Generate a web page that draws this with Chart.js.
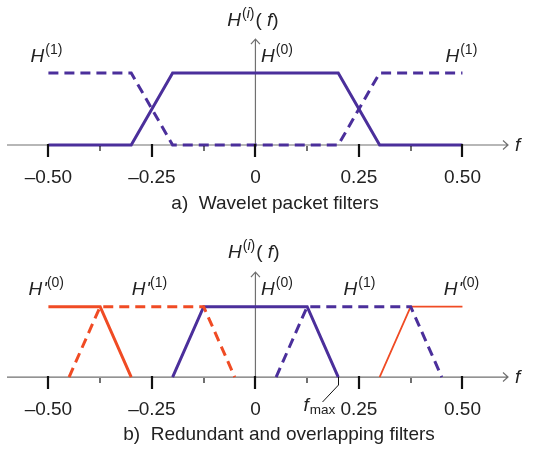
<!DOCTYPE html>
<html>
<head>
<meta charset="utf-8">
<script src="https://cdn.jsdelivr.net/npm/chart.js@4"></script>
<style>
  html, body { margin: 0; padding: 0; background: #fff; }
  #wrap { position: relative; width: 533px; height: 454px; }
  canvas { position: absolute; left: 0; }
</style>
</head>
<body>
<div id="wrap">
  <canvas id="chartA" width="533" height="227" style="top:0"></canvas>
  <canvas id="chartB" width="533" height="227" style="top:227px"></canvas>
</div>
<script>
// frequency axis ticks
const majorTicks = [-0.5, -0.25, 0, 0.25, 0.5];
const minorTicks = [-0.375, -0.125, 0.125, 0.375];
const tickLabels = ['\u20130.50', '\u20130.25', '0', '0.25', '0.50'];

// a) wavelet packet filters
const wpH0Freq = [-0.5, -0.3, -0.2, 0.2, 0.3, 0.5];
const wpH0Gain = [0, 0, 1, 1, 0, 0];
const wpH1Freq = [-0.5, -0.3, -0.2, 0.2, 0.3, 0.5];
const wpH1Gain = [1, 1, 0, 0, 1, 1];

// b) redundant and overlapping filters
const rH0Freq = [-0.2, -0.125, 0.125, 0.2];
const rH0Gain = [0, 1, 1, 0];
const rH1Freq = [0.05, 0.125, 0.375, 0.45];
const rH1Gain = [0, 1, 1, 0];
const rHp0LeftFreq = [-0.5, -0.375, -0.3];
const rHp0LeftGain = [1, 1, 0];
const rHp1Freq = [-0.45, -0.375, -0.125, -0.05];
const rHp1Gain = [0, 1, 1, 0];
const rHp0RightFreq = [0.3, 0.375, 0.5];
const rHp0RightGain = [0, 1, 1];
const fMax = 0.2;

const BLUE = '#4b2f9b';
const RED = '#f04b24';
const FONT = '"Liberation Sans", Arial, Helvetica, sans-serif';

function pts(fs, gs) {
    return fs.map((f, i) => ({ x: f, y: gs[i] }));
}

function line(fs, gs, color, dashed, width) {
    return {
        data: pts(fs, gs),
        borderColor: color,
        borderWidth: width || 3,
        borderDash: dashed ? [10, 6] : [],
        pointRadius: 0,
        tension: 0,
        fill: false
    };
}

// rich text: list of runs {t, it, sup, sub}
function drawRuns(ctx, x, y, runs) {
    let cx = x;
    runs.forEach(r => {
        const size = r.size || ((r.sup || r.sub) ? 14 : 19);
        ctx.font = (r.it ? 'italic ' : '') + size + 'px ' + FONT;
        const dy = r.sup ? -8 : (r.sub ? 3 : 0);
        ctx.fillText(r.t, cx, y + dy);
        cx += ctx.measureText(r.t).width + (r.gap || 0);
    });
}

function hLabel(sup, prime) {
    const runs = [{ t: 'H', it: true, gap: 1 }];
    if (prime) runs.push({ t: '\'', it: true, gap: 0 });
    runs.push({ t: '(' + sup + ')', sup: true });
    return runs;
}

const hiLabel = [
    { t: 'H', it: true, gap: 1 },
    { t: '(', sup: true }, { t: 'i', sup: true, it: true }, { t: ')', sup: true, gap: 1 },
    { t: '( ', it: false }, { t: 'f', it: true }, { t: ')' }
];

const freqAxes = {
    id: 'freqAxes',
    beforeDatasetsDraw(chart, args, opts) {
        const { ctx, chartArea, scales: { x, y } } = chart;
        const y0 = y.getPixelForValue(0);
        const x0 = x.getPixelForValue(0);
        const yTop = y.getPixelForValue(opts.axisTop);
        ctx.save();
        ctx.strokeStyle = '#707070';
        ctx.lineWidth = 1.2;
        ctx.beginPath();
        ctx.moveTo(chartArea.left, y0);
        ctx.lineTo(chartArea.right, y0);
        ctx.moveTo(chartArea.right - 5, y0 - 4.5);
        ctx.lineTo(chartArea.right, y0);
        ctx.lineTo(chartArea.right - 5, y0 + 4.5);
        ctx.moveTo(x0, y0);
        ctx.lineTo(x0, yTop);
        ctx.moveTo(x0 - 4.5, yTop + 5);
        ctx.lineTo(x0, yTop);
        ctx.lineTo(x0 + 4.5, yTop + 5);
        ctx.stroke();
        ctx.restore();
    },
    afterDatasetsDraw(chart, args, opts) {
        const { ctx, chartArea, scales: { x, y } } = chart;
        const y0 = y.getPixelForValue(0);
        ctx.save();
        ctx.strokeStyle = '#111';
        ctx.lineWidth = 2.2;
        ctx.beginPath();
        majorTicks.forEach(v => {
            const px = Math.round(x.getPixelForValue(v));
            ctx.moveTo(px, y0 - 1);
            ctx.lineTo(px, y0 + 12);
        });
        ctx.stroke();
        ctx.lineWidth = 1.2;
        ctx.beginPath();
        minorTicks.forEach(v => {
            const px = Math.round(x.getPixelForValue(v));
            ctx.moveTo(px, y0 + 1);
            ctx.lineTo(px, y0 + 6);
        });
        ctx.stroke();

        ctx.fillStyle = '#222';
        ctx.textBaseline = 'alphabetic';
        ctx.font = '19px ' + FONT;
        ctx.textAlign = 'center';
        majorTicks.forEach((v, i) => {
            ctx.fillText(tickLabels[i], x.getPixelForValue(v), y0 + 38);
        });
        ctx.fillText(opts.caption, opts.captionX, y0 + opts.captionDy);

        ctx.textAlign = 'left';
        // axis name f
        drawRuns(ctx, chartArea.right + 7, y0 + 6, [{ t: 'f', it: true }]);
        (opts.labels || []).forEach(l => {
            drawRuns(ctx, x.getPixelForValue(l.x), y.getPixelForValue(l.y), l.runs);
        });

        if (opts.fmax !== undefined) {
            const fx = Math.round(x.getPixelForValue(opts.fmax)) + 0.5;
            ctx.strokeStyle = '#111';
            ctx.lineWidth = 1;
            ctx.beginPath();
            ctx.moveTo(fx, y0);
            ctx.lineTo(fx, y0 + 8);
            ctx.lineTo(fx - 16, y0 + 25);
            ctx.stroke();
            drawRuns(ctx, fx - 35, y0 + 34, [{ t: 'f', it: true, gap: 1 }, { t: 'max', sub: true, size: 13.5 }]);
        }
        ctx.restore();
    }
};

function makeChart(id, datasets, padTop, padBottom, pluginOpts) {
    return new Chart(document.getElementById(id), {
        type: 'line',
        data: { datasets: datasets },
        options: {
            responsive: false,
            animation: false,
            events: [],
            layout: { padding: { left: 7, right: 25, top: padTop, bottom: padBottom } },
            scales: {
                x: { type: 'linear', min: -0.6, max: 0.61, display: false },
                y: { type: 'linear', min: -0.5, max: 1.5, display: false }
            },
            plugins: {
                legend: { display: false },
                tooltip: { enabled: false },
                freqAxes: pluginOpts
            }
        },
        plugins: [freqAxes]
    });
}

makeChart('chartA', [
    line(wpH1Freq, wpH1Gain, BLUE, true),
    line(wpH0Freq, wpH0Gain, BLUE, false)
], 37, 46, {
    axisTop: 1.47,
    caption: 'a)  Wavelet packet filters',
    captionX: 275,
    captionDy: 64,
    labels: [
        { x: -0.068, y: 1.65, runs: hiLabel },
        { x: -0.543, y: 1.15, runs: hLabel('1') },
        { x: 0.0135, y: 1.15, runs: hLabel('0') },
        { x: 0.459, y: 1.15, runs: hLabel('1') }
    ]
});

makeChart('chartB', [
    line(rHp1Freq, rHp1Gain, RED, true),
    line(rH1Freq, rH1Gain, BLUE, true),
    line(rHp0LeftFreq, rHp0LeftGain, RED, false),
    line(rHp0RightFreq, rHp0RightGain, RED, false, 1.8),
    line(rH0Freq, rH0Gain, BLUE, false)
], 44.5, 41.8, {
    axisTop: 1.49,
    caption: 'b)  Redundant and overlapping filters',
    captionX: 279,
    captionDy: 63,
    fmax: fMax,
    labels: [
        { x: -0.066, y: 1.69, runs: hiLabel },
        { x: -0.548, y: 1.166, runs: hLabel('0', true) },
        { x: -0.299, y: 1.166, runs: hLabel('1', true) },
        { x: 0.0135, y: 1.166, runs: hLabel('0') },
        { x: 0.213, y: 1.166, runs: hLabel('1') },
        { x: 0.455, y: 1.166, runs: hLabel('0', true) }
    ]
});
</script>
</body>
</html>
